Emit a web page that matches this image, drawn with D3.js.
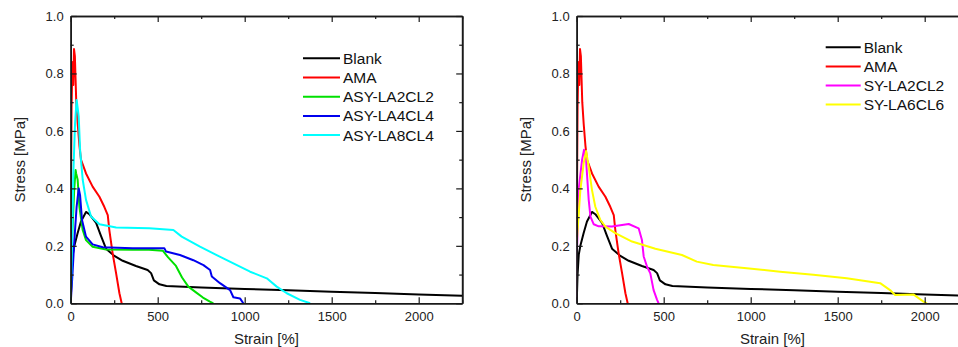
<!DOCTYPE html>
<html>
<head>
<meta charset="utf-8">
<script src="https://cdn.jsdelivr.net/npm/d3@7"></script>
<style>
  body { margin: 0; background: #fff; }
  svg { display: block; font-family: Arial, "Liberation Sans", sans-serif; }
  .tick text { fill: #222; font-size: 13px; }
</style>
</head>
<body>
<div id="chart"></div>
<script>
// strain [%], stress [MPa]
const blank = [[0,0],[5,0.1],[12,0.17],[21,0.2],[40,0.245],[59,0.285],[88,0.318],[107,0.31],[146,0.28],[174,0.235],[203,0.19],[251,0.165],[299,0.148],[375,0.13],[442,0.116],[462,0.105],[478,0.08],[510,0.066],[550,0.06],[750,0.055],[1000,0.05],[1250,0.045],[1500,0.04],[1750,0.036],[2000,0.031],[2250,0.026]];
const ama = [[0,0.23],[3,0.5],[5,0.68],[8,0.78],[12,0.84],[15,0.76],[19,0.885],[24,0.86],[28,0.78],[32,0.7],[40,0.626],[50,0.55],[59,0.5],[88,0.452],[126,0.406],[165,0.371],[193,0.336],[213,0.307],[222,0.255],[241,0.174],[261,0.104],[280,0.035],[293,0]];
const asyLa2cl2 = [[0,0],[8,0.22],[20,0.394],[28,0.464],[32,0.45],[40,0.43],[50,0.336],[69,0.255],[88,0.22],[126,0.197],[203,0.187],[356,0.186],[450,0.186],[529,0.183],[560,0.16],[605,0.13],[640,0.09],[676,0.058],[720,0.038],[760,0.02],[800,0.006],[820,0]];
const asyLa4cl4 = [[0,0],[10,0.1],[21,0.22],[34,0.336],[46,0.4],[54,0.375],[65,0.29],[88,0.232],[126,0.205],[184,0.195],[356,0.192],[538,0.192],[548,0.18],[628,0.168],[705,0.15],[763,0.133],[801,0.116],[811,0.093],[858,0.07],[916,0.046],[935,0.021],[973,0.017],[992,0]];
const asyLa8cl4 = [[0,0],[8,0.22],[15,0.45],[25,0.626],[34,0.708],[40,0.68],[46,0.65],[54,0.534],[69,0.43],[88,0.36],[117,0.302],[165,0.275],[261,0.264],[452,0.261],[590,0.255],[638,0.232],[743,0.197],[839,0.168],[935,0.139],[1031,0.11],[1127,0.087],[1184,0.058],[1242,0.035],[1318,0.012],[1376,0]];
const syLa2cl2 = [[0,0],[2,0.19],[11,0.394],[31,0.5],[42,0.534],[54,0.5],[59,0.452],[69,0.36],[79,0.302],[98,0.275],[126,0.268],[203,0.267],[299,0.276],[356,0.261],[375,0.22],[385,0.163],[404,0.128],[423,0.104],[442,0.046],[462,0.012],[471,0]];
const syLa6cl6 = [[0,0.21],[21,0.394],[40,0.487],[54,0.53],[69,0.475],[88,0.394],[107,0.336],[136,0.29],[165,0.267],[222,0.244],[318,0.215],[452,0.19],[605,0.168],[690,0.145],[785,0.133],[977,0.122],[1169,0.11],[1360,0.099],[1552,0.087],[1744,0.07],[1801,0.046],[1830,0.029],[1935,0.031],[1993,0.006],[2012,0]];

const leftSeries = [
  { name: 'Blank', color: '#000000', values: blank },
  { name: 'AMA', color: '#ff0000', values: ama },
  { name: 'ASY-LA2CL2', color: '#00e000', values: asyLa2cl2 },
  { name: 'ASY-LA4CL4', color: '#0000ee', values: asyLa4cl4 },
  { name: 'ASY-LA8CL4', color: '#00ffff', values: asyLa8cl4 }
];
const rightSeries = [
  { name: 'Blank', color: '#000000', values: blank },
  { name: 'AMA', color: '#ff0000', values: ama },
  { name: 'SY-LA2CL2', color: '#ff00ff', values: syLa2cl2 },
  { name: 'SY-LA6CL6', color: '#ffff00', values: syLa6cl6 }
];
const xMajor = [0, 500, 1000, 1500, 2000];
const xMinor = [250, 750, 1250, 1750, 2250];
const yMajor = [0, 0.2, 0.4, 0.6, 0.8, 1.0];
const yMinor = [0.1, 0.3, 0.5, 0.7, 0.9];

const W = 958, H = 347;
const svg = d3.select('#chart').append('svg').attr('width', W).attr('height', H);

function drawPanel(opts) {
  const { left, top, width, height, series, legend } = opts;
  const x = d3.scaleLinear().domain([0, 2250]).range([left, left + width]);
  const y = d3.scaleLinear().domain([0, 1]).range([top + height, top]);
  const g = svg.append('g');

  const clipId = 'clip' + Math.round(left);
  g.append('clipPath').attr('id', clipId)
    .append('rect').attr('x', left).attr('y', top - 2).attr('width', width).attr('height', height + 2);

  // curves (drawn in legend order, later ones on top)
  const line = d3.line().x(d => x(d[0])).y(d => y(d[1]));
  g.append('g').attr('clip-path', `url(#${clipId})`)
    .selectAll('path').data(series).enter().append('path')
    .attr('d', d => line(d.values))
    .attr('fill', 'none')
    .attr('stroke', d => d.color)
    .attr('stroke-width', 2)
    .attr('stroke-linejoin', 'round');

  // axes with inward ticks
  const fmt = d3.format('.1f');
  g.append('g').attr('transform', `translate(0,${top + height})`)
    .call(d3.axisBottom(x).tickValues(xMajor).tickSize(-6).tickSizeOuter(0).tickPadding(8).tickFormat(d3.format('d')));
  g.append('g').attr('transform', `translate(0,${top + height})`)
    .call(d3.axisBottom(x).tickValues(xMinor).tickSize(-3).tickSizeOuter(0).tickFormat(''));
  g.append('g').attr('transform', `translate(0,${top})`)
    .call(d3.axisTop(x).tickValues(xMajor).tickSize(-6).tickSizeOuter(0).tickFormat(''));
  g.append('g').attr('transform', `translate(0,${top})`)
    .call(d3.axisTop(x).tickValues(xMinor).tickSize(-3).tickSizeOuter(0).tickFormat(''));
  g.append('g').attr('transform', `translate(${left},0)`)
    .call(d3.axisLeft(y).tickValues(yMajor).tickSize(-6).tickSizeOuter(0).tickPadding(7).tickFormat(fmt));
  g.append('g').attr('transform', `translate(${left},0)`)
    .call(d3.axisLeft(y).tickValues(yMinor).tickSize(-3).tickSizeOuter(0).tickFormat(''));
  g.append('g').attr('transform', `translate(${left + width},0)`)
    .call(d3.axisRight(y).tickValues(yMajor).tickSize(-6).tickSizeOuter(0).tickFormat(''));
  g.append('g').attr('transform', `translate(${left + width},0)`)
    .call(d3.axisRight(y).tickValues(yMinor).tickSize(-3).tickSizeOuter(0).tickFormat(''));
  g.selectAll('.domain').attr('stroke', '#1a1a1a').attr('stroke-width', 1.6);
  g.selectAll('.tick line').attr('stroke', '#1a1a1a').attr('stroke-width', 1.2);

  // axis titles
  g.append('text')
    .attr('x', left + width / 2).attr('y', top + height + 41)
    .attr('text-anchor', 'middle').attr('font-size', 15).attr('fill', '#222')
    .text('Strain [%]');
  g.append('text')
    .attr('transform', `translate(${left - 46},${top + height / 2}) rotate(-90)`)
    .attr('text-anchor', 'middle').attr('font-size', 15).attr('fill', '#222')
    .text('Stress [MPa]');

  // legend
  const rows = g.append('g').selectAll('g').data(series).enter().append('g')
    .attr('transform', (d, i) => `translate(${legend.x},${legend.y + i * legend.step})`);
  rows.append('line').attr('x1', 0).attr('x2', legend.len).attr('y1', 0).attr('y2', 0)
    .attr('stroke', d => d.color).attr('stroke-width', 2);
  rows.append('text').attr('x', legend.len + 3).attr('y', 0).attr('dy', '0.36em')
    .attr('font-size', 15.5).attr('fill', '#111').text(d => d.name);
}

drawPanel({ left: 70.7, top: 16, width: 391.5, height: 287.3, series: leftSeries,
  legend: { x: 303, y: 58.3, step: 19.2, len: 37 } });
drawPanel({ left: 576.7, top: 16, width: 391.5, height: 287.3, series: rightSeries,
  legend: { x: 825.7, y: 47.3, step: 19.1, len: 35 } });
</script>
</body>
</html>
